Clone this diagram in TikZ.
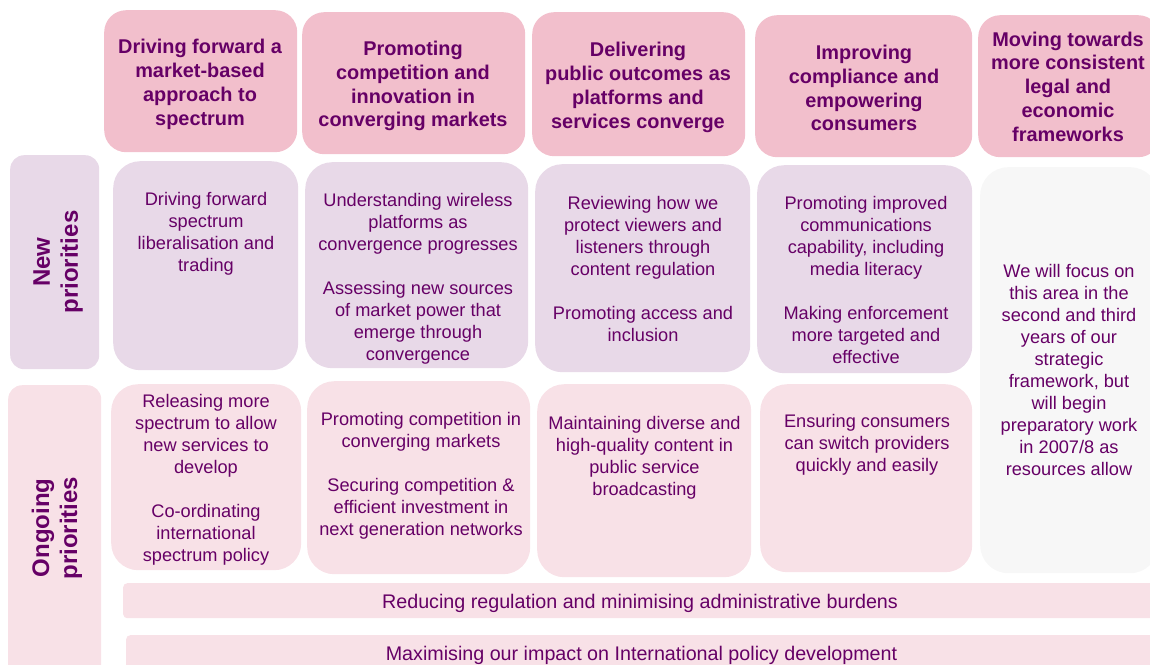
\documentclass[tikz,border=0pt]{standalone}
\usepackage{fontspec}
\setmainfont{Liberation Sans}
\definecolor{ink}{HTML}{660066}
\definecolor{hdrpink}{HTML}{F2BFCC}
\definecolor{lav}{HTML}{E8D9E8}
\definecolor{lpink}{HTML}{F8E1E7}
\definecolor{lgrey}{HTML}{F7F7F7}
\begin{document}
\begin{tikzpicture}[x=1pt,y=-1pt,
  box/.style={draw=none,inner sep=0pt,anchor=north west},
  hdrbox/.style={box,fill=hdrpink,rounded corners=22pt},
  newbox/.style={box,fill=lav,rounded corners=27pt},
  ongbox/.style={box,fill=lpink,rounded corners=27pt},
  greybox/.style={box,fill=lgrey,rounded corners=28pt},
  sidebox/.style={box,rounded corners=14pt},
  barbox/.style={box,fill=lpink,rounded corners=4pt},
  hdrtext/.style={text=ink,align=center,inner sep=0pt,font=\bfseries\fontsize{19.9}{23.8}\selectfont},
  bodytext/.style={text=ink,align=center,inner sep=0pt,font=\fontsize{18.2}{22}\selectfont},
  toptext/.style={bodytext,anchor=north},
  bartext/.style={text=ink,inner sep=0pt,font=\fontsize{19.7}{22}\selectfont},
  sidetext/.style={text=ink,align=center,inner sep=0pt,rotate=90,font=\bfseries\fontsize{24}{28}\selectfont}]
\useasboundingbox (0,0) rectangle (1150,664);
\clip (0,0) rectangle (1150,664);

% column headers
\node[hdrbox,minimum width=193pt,minimum height=142pt] (h1) at (104,10) {};
\node[hdrbox,minimum width=223pt,minimum height=142pt] (h2) at (302,12) {};
\node[hdrbox,minimum width=213pt,minimum height=144pt] (h3) at (532,12) {};
\node[hdrbox,minimum width=217pt,minimum height=142pt] (h4) at (755,15) {};
\node[hdrbox,minimum width=182pt,minimum height=142pt] (h5) at (978,15) {};

\node[hdrtext] (h1t) at (200,84.5) {Driving forward a\\market-based\\approach to\\spectrum};
\node[hdrtext] (h2t) at (413,86) {Promoting\\competition and\\innovation in\\converging markets};
\node[hdrtext] (h3t) at (638,87.5) {Delivering\\public outcomes as\\platforms and\\services converge};
\node[hdrtext] (h4t) at (864,88) {Improving\\compliance and\\empowering\\consumers};
\node[hdrtext] (h5t) at (1068,86.5) {Moving towards\\more consistent\\legal and\\economic\\frameworks};

% row labels
\node[sidebox,fill=lav,minimum width=89pt,minimum height=214pt] (lnew) at (10,155) {};
\node[sidebox,fill=lpink,minimum width=93pt,minimum height=300pt] (long) at (8,385) {};
\node[sidetext] (lnewt) at (58,262) {New\\priorities};
\node[sidetext] (longt) at (57,528) {Ongoing\\priorities};

% new priorities
\node[newbox,minimum width=185pt,minimum height=209pt] (n1) at (113,161) {};
\node[newbox,minimum width=223pt,minimum height=206pt] (n2) at (305,162) {};
\node[newbox,minimum width=215pt,minimum height=208pt] (n3) at (535,164) {};
\node[newbox,minimum width=215pt,minimum height=208pt] (n4) at (757,165) {};

\node[toptext] (n1t) at (206,192.5) {Driving forward\\spectrum\\liberalisation and\\trading};
\node[toptext] (n2t) at (418,193.5) {Understanding wireless\\platforms as\\convergence progresses\\[22pt]Assessing new sources\\of market power that\\emerge through\\convergence};
\node[toptext] (n3t) at (643,196.5) {Reviewing how we\\protect viewers and\\listeners through\\content regulation\\[22pt]Promoting access and\\inclusion};
\node[toptext] (n4t) at (866,196.5) {Promoting improved\\communications\\capability, including\\media literacy\\[22pt]Making enforcement\\more targeted and\\effective};

% ongoing priorities
\node[ongbox,minimum width=190pt,minimum height=186pt] (o1) at (111,384) {};
\node[ongbox,minimum width=223pt,minimum height=193pt] (o2) at (307,381) {};
\node[ongbox,minimum width=214pt,minimum height=193pt] (o3) at (537,384) {};
\node[ongbox,minimum width=212pt,minimum height=188pt] (o4) at (760,384) {};

\node[bodytext] (o1t) at (206,480) {Releasing more\\spectrum to allow\\new services to\\develop\\[22pt]Co-ordinating\\international\\spectrum policy};
\node[toptext] (o2t) at (421,412.5) {Promoting competition in\\converging markets\\[22pt]Securing competition \&\\efficient investment in\\next generation networks};
\node[toptext] (o3t) at (644.5,416.5) {Maintaining diverse and\\high-quality content in\\public service\\broadcasting};
\node[toptext] (o4t) at (867,414.5) {Ensuring consumers\\can switch providers\\quickly and easily};

% fifth column
\node[greybox,minimum width=178pt,minimum height=406pt] (g5) at (980,167) {};
\node[bodytext] (g5t) at (1069,370) {We will focus on\\this area in the\\second and third\\years of our\\strategic\\framework, but\\will begin\\preparatory work\\in 2007/8 as\\resources allow};

% cross-cutting bars
\node[barbox,minimum width=1040pt,minimum height=35pt] (b1) at (123,583) {};
\node[barbox,minimum width=1040pt,minimum height=40pt] (b2) at (126,635) {};
\node[bartext] (b1t) at (640,603) {Reducing regulation and minimising administrative burdens};
\node[bartext] (b2t) at (641.5,655) {Maximising our impact on International policy development};
\end{tikzpicture}
\end{document}
